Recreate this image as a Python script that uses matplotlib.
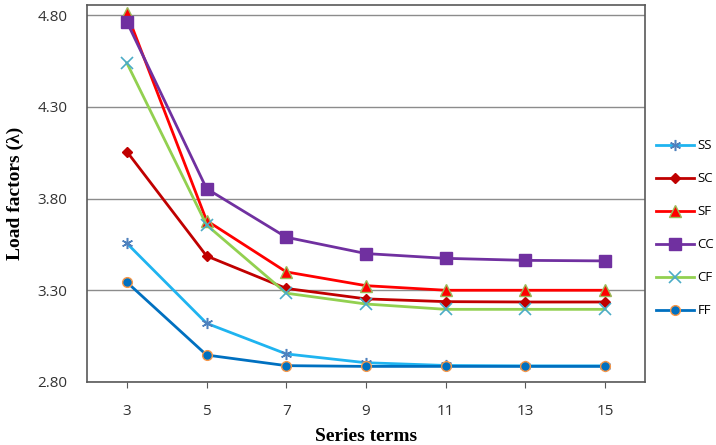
import matplotlib.pyplot as plt

terms = [3, 5, 7, 9, 11, 13, 15]
ss = [3.556, 3.12, 2.953, 2.905, 2.89, 2.888, 2.888]
sc = [4.056, 3.487, 3.31, 3.253, 3.238, 3.236, 3.236]
sf = [4.81, 3.68, 3.40, 3.325, 3.30, 3.30, 3.30]
cc = [4.763, 3.854, 3.589, 3.50, 3.474, 3.463, 3.46]
cf = [4.539, 3.656, 3.284, 3.225, 3.196, 3.196, 3.196]
ff = [3.344, 2.947, 2.889, 2.885, 2.885, 2.885, 2.885]
yticks = [2.80, 3.30, 3.80, 4.30, 4.80]

fig = plt.figure(figsize=(7.16, 4.45), dpi=100)
ax = fig.add_axes([0.1215, 0.1416, 0.7793, 0.8472])

ax.plot(terms, ss, color='#1FB4F0', lw=2, marker=(6, 2, 0), ms=8, mew=1.1, mec='#4F81BD', label='SS')
ax.plot(terms, sc, color='#C00000', lw=2, marker='D', ms=5.5, mfc='#C00000', mec='#C00000', label='SC')
ax.plot(terms, sf, color='#FF0000', lw=2, marker='^', ms=8, mfc='#FF0000', mec='#9BBB59', label='SF')
ax.plot(terms, cc, color='#7030A0', lw=2, marker='s', ms=8, mfc='#7030A0', mec='#7030A0', label='CC')
ax.plot(terms, cf, color='#92D050', lw=2, marker='x', ms=8, mew=1.2, mec='#4BACC6', label='CF')
ax.plot(terms, ff, color='#0070C0', lw=2, marker='o', ms=7, mfc='#0070C0', mec='#F79646', label='FF')

ax.set_xlim(2, 16)
ax.set_ylim(2.80, 4.855)
ax.set_xticks(terms)
ax.set_yticks(yticks)
ax.set_yticklabels([f'{v:.2f}' for v in yticks])
ax.grid(axis='y', color='#8C8C8C', lw=1)
ax.set_axisbelow(True)
for s in ax.spines.values():
    s.set_color('#595959')
    s.set_linewidth(1.2)
ax.tick_params(axis='y', length=0, pad=14, labelsize=11)
ax.tick_params(axis='x', length=4, pad=12, labelsize=11, direction='out', color='#595959')
for t in ax.get_xticklabels() + ax.get_yticklabels():
    t.set_fontfamily('Open Sans')
    t.set_color('#333333')

ax.set_xlabel('Series terms', fontfamily='Liberation Serif', fontweight='bold', fontsize=14, labelpad=6)
ax.set_ylabel('Load factors (λ)', fontfamily='Liberation Serif', fontweight='bold', fontsize=14, labelpad=10)

leg = ax.legend(loc='center left', bbox_to_anchor=(0.916, 0.487), bbox_transform=fig.transFigure,
                frameon=False, borderaxespad=0, borderpad=0,
                prop={'family': 'Open Sans', 'size': 9.5}, handlelength=2.9,
                labelspacing=1.52, handletextpad=0.25)

fig.savefig('out.png', dpi=100)
